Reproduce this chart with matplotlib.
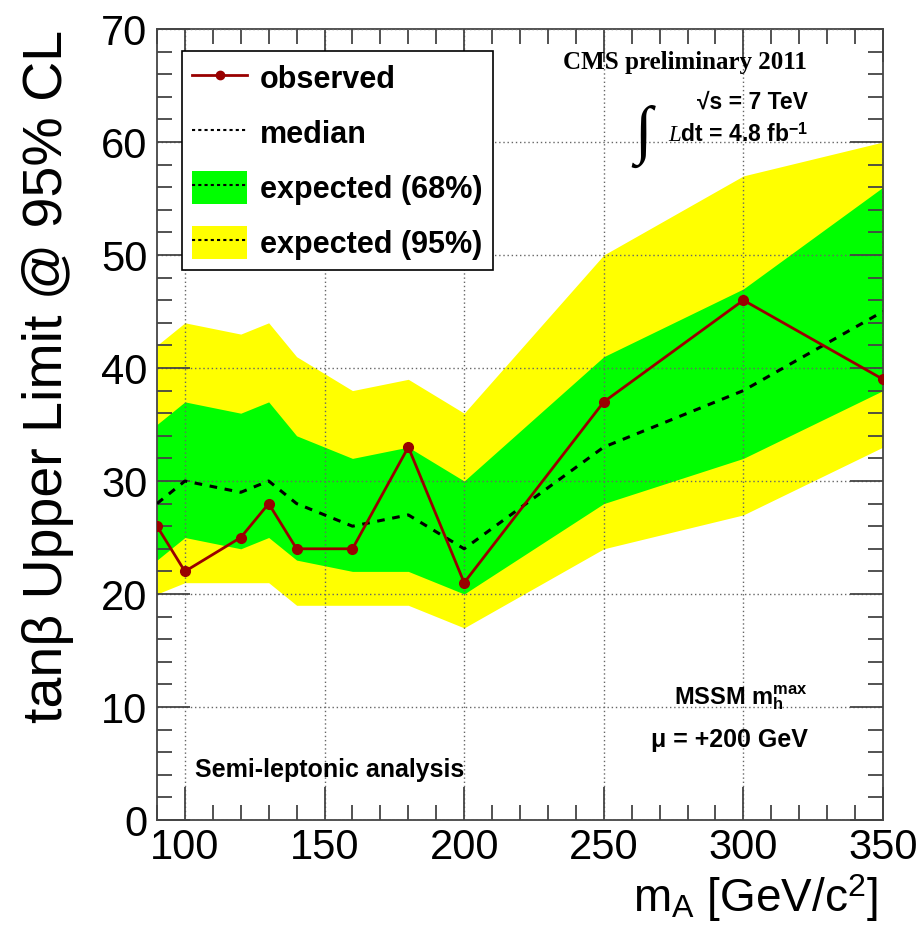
import numpy as np
import matplotlib
matplotlib.use('Agg')
import matplotlib.pyplot as plt
from matplotlib.lines import Line2D
from matplotlib.patches import Patch
from matplotlib.ticker import MultipleLocator

plt.rcParams['font.family'] = ['Liberation Sans', 'DejaVu Sans']
plt.rcParams['mathtext.fontset'] = 'custom'
plt.rcParams['mathtext.rm'] = 'Liberation Sans'
plt.rcParams['mathtext.it'] = 'Liberation Serif:italic'
plt.rcParams['mathtext.bf'] = 'Liberation Sans:bold'

# mass points and limits
m_A = [90, 100, 120, 130, 140, 160, 180, 200, 250, 300, 350]
observed = [26, 22, 25, 28, 24, 24, 33, 21, 37, 46, 39]
median = [28, 30, 29, 30, 28, 26, 27, 24, 33, 38, 45]
band68_lo = [23, 25, 24, 25, 23, 22, 22, 20, 28, 32, 38]
band68_hi = [35, 37, 36, 37, 34, 32, 33, 30, 41, 47, 56]
band95_lo = [20, 21, 21, 21, 19, 19, 19, 17, 24, 27, 33]
band95_hi = [42, 44, 43, 44, 41, 38, 39, 36, 50, 57, 60]

fig = plt.figure(figsize=(9.2, 9.38), dpi=100)
ax = fig.add_axes([157 / 920, 1 - 820 / 938, 726 / 920, 791 / 938])

ax.fill_between(m_A, band95_lo, band95_hi, color='#ffff00', lw=0, zorder=1)
ax.fill_between(m_A, band68_lo, band68_hi, color='#00ff00', lw=0, zorder=2)
ax.plot(m_A, median, color='black', ls=(0, (2.5, 2.5)), lw=2.2, zorder=3)
ax.plot(m_A, observed, color='#990000', lw=2, marker='o', ms=7, zorder=4)

ax.set_xlim(90, 350)
ax.set_ylim(0, 70)
ax.xaxis.set_major_locator(MultipleLocator(50))
ax.xaxis.set_minor_locator(MultipleLocator(10))
ax.yaxis.set_major_locator(MultipleLocator(10))
ax.yaxis.set_minor_locator(MultipleLocator(2))
ax.tick_params(which='both', direction='in', top=True, right=True, color='#444444')
ax.tick_params(which='major', length=24, width=1.3, labelsize=30)
ax.tick_params(which='minor', length=11, width=1.3)
ax.tick_params(axis='x', which='major', pad=6)
ax.tick_params(axis='y', which='major', pad=7)
ax.grid(True, which='major', color='#666666', ls=(0, (1, 2)), lw=1, zorder=0)
ax.set_axisbelow(False)
for s in ax.spines.values():
    s.set_color('#444444')
    s.set_linewidth(1.3)

ax.set_ylabel('tanβ Upper Limit @ 95% CL', fontsize=40, va='baseline', ha='right')
ax.yaxis.set_label_coords(-0.131, 0.999)
ax.set_xlabel(r'm$_\mathregular{A}$ [GeV/c$^\mathregular{2}$]', fontsize=33,
              va='baseline', ha='right')
ax.xaxis.set_label_coords(0.993, -0.1163)

handles = [
    Line2D([], [], color='#990000', lw=2, marker='o', ms=6),
    Line2D([], [], color='black', ls=(0, (1.5, 1.5)), lw=1.5),
    (Patch(color='#00ff00', lw=0), Line2D([], [], color='black', ls=(0, (1.5, 1.5)), lw=1.5)),
    (Patch(color='#ffff00', lw=0), Line2D([], [], color='black', ls=(0, (1.5, 1.5)), lw=1.5)),
]
labels = ['observed', 'median', 'expected (68%)', 'expected (95%)']
leg = ax.legend(handles, labels, loc='upper left', bbox_to_anchor=(0.034, 0.972),
                fancybox=False, framealpha=1, edgecolor='black',
                prop={'weight': 'bold', 'size': 22}, handlelength=1.8,
                handleheight=1.25, labelspacing=0.7, borderpad=0.35,
                handletextpad=0.4, borderaxespad=0)
leg.get_frame().set_linewidth(1.2)

fig.text(685 / 920, 1 - 62 / 938, 'CMS preliminary 2011', family='Liberation Serif',
         weight='bold', fontsize=18, ha='center', va='center')
fig.text(808 / 920, 1 - 102 / 938, '√s = 7 TeV', weight='bold',
         fontsize=16.5, ha='right', va='center')
fig.text(634 / 920, 1 - 136 / 938, '∫', family='Liberation Serif', fontsize=46,
         ha='left', va='center')
fig.text(808 / 920, 1 - 135 / 938, r'$\mathit{L}$dt = 4.8 fb$^{\mathbf{-1}}$',
         weight='bold', fontsize=16.5, ha='right', va='center')
fig.text(808 / 920, 1 - 698 / 938, r'MSSM m$_\mathbf{h}^\mathbf{max}$',
         weight='bold', fontsize=17, ha='right', va='center')
fig.text(808 / 920, 1 - 740 / 938, 'μ = +200 GeV', weight='bold', fontsize=18,
         ha='right', va='center')
fig.text(195 / 920, 1 - 770 / 938, 'Semi-leptonic analysis', weight='bold',
         fontsize=18, ha='left', va='center')

fig.savefig('out.png', dpi=100)
